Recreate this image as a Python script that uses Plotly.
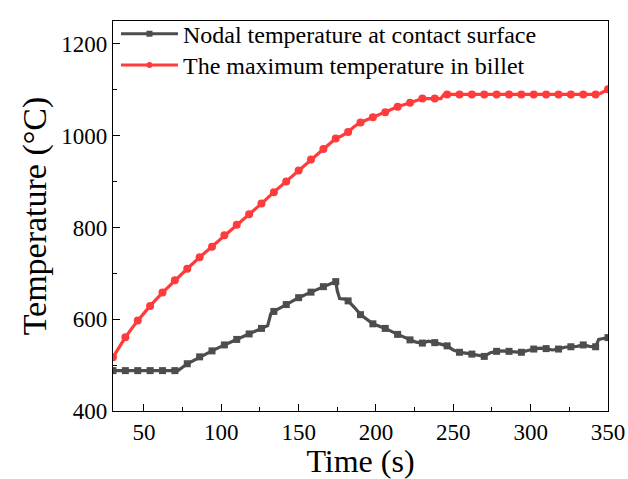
import plotly.graph_objects as go

# ---- data ----
# marker sampling times (s)
marker_time = [30, 38, 46, 54, 62, 70, 78, 86, 94, 102, 110, 118, 126, 134, 142, 150,
               158, 166, 174, 182, 190, 198, 206, 214, 222, 230, 238, 246, 254, 262,
               270, 278, 286, 294, 302, 310, 318, 326, 334, 342, 350]

# Nodal temperature at contact surface (line data, denser than markers)
nodal_time = [30, 38, 46, 54, 62, 70, 72, 78, 86, 94, 102, 110, 118, 126, 130, 132, 134,
              142, 150, 158, 166, 174, 175, 176.5, 180, 182, 186, 190, 198, 206, 214,
              218, 222, 226, 230, 234, 238, 242, 246, 250, 254, 258, 262, 266, 270, 274,
              278, 282, 286, 290, 294, 298, 302, 306, 310, 314, 318, 322, 326, 330, 334,
              338, 342, 344, 347, 350]
nodal_temp = [488, 488, 488, 488, 488, 488, 488, 503, 518, 531, 544, 556, 568, 580, 586, 612, 617,
              632, 647, 659, 671, 682, 662, 645, 644, 640, 626, 610, 590, 580, 567,
              561, 555, 550, 548, 552, 549, 546, 542, 533, 528, 526, 524, 522, 519, 527,
              530, 531, 530, 528, 528, 532, 535, 537, 536, 533, 535, 539, 540, 541, 544,
              541, 540, 556, 558, 560]

# The maximum temperature in billet
max_time = [30, 38, 46, 54, 62, 70, 78, 86, 94, 102, 110, 118, 126, 134, 142, 150,
            158, 166, 174, 178, 182, 186, 190, 198, 206, 214, 222, 230, 238, 242, 244, 246,
            254, 262, 270, 278, 286, 294, 302, 310, 318, 326, 334, 342, 345, 350]
max_temp = [517, 561, 597, 629, 658, 685, 710, 735, 758, 783, 806, 829, 852, 877, 900, 924,
            948, 971, 994, 1000, 1008, 1020, 1029, 1040, 1051, 1063, 1072, 1081, 1081, 1081, 1090, 1090,
            1090, 1090, 1090, 1090, 1090, 1090, 1090, 1090, 1090, 1090, 1090, 1090, 1092, 1101]

names = ["Nodal temperature at contact surface", "The maximum temperature in billet"]

GRAY = "#4d4d4d"
RED = "#ff3b3b"
FONT = "Liberation Serif"

def at_markers(times, values):
    lut = dict(zip(times, values))
    xs = [t for t in marker_time if t in lut]
    return xs, [lut[t] for t in xs]

fig = go.Figure()

# lines
fig.add_trace(go.Scatter(x=nodal_time, y=nodal_temp, mode="lines",
                         line=dict(color=GRAY, width=3.2), showlegend=False, hoverinfo="skip"))
fig.add_trace(go.Scatter(x=max_time, y=max_temp, mode="lines",
                         line=dict(color=RED, width=3.2), showlegend=False, hoverinfo="skip"))
# markers
gx, gy = at_markers(nodal_time, nodal_temp)
fig.add_trace(go.Scatter(x=gx, y=gy, mode="markers",
                         marker=dict(symbol="square", size=7, color=GRAY), showlegend=False))
rx, ry = at_markers(max_time, max_temp)
fig.add_trace(go.Scatter(x=rx, y=ry, mode="markers",
                         marker=dict(symbol="circle", size=8, color=RED), showlegend=False))

# legend entries (one legend box each, so the row spacing can be matched)
fig.add_trace(go.Scatter(x=[None], y=[None], mode="lines+markers", name=names[0],
                         line=dict(color=GRAY, width=3), legend="legend",
                         marker=dict(symbol="square", size=6, color=GRAY)))
fig.add_trace(go.Scatter(x=[None], y=[None], mode="lines+markers", name=names[1],
                         line=dict(color=RED, width=3), legend="legend2",
                         marker=dict(symbol="circle", size=6, color=RED)))

axis_common = dict(
    showline=True, linecolor="black", linewidth=1.3, mirror=True,
    ticks="inside", ticklen=7, tickwidth=1.3, tickcolor="black",
    showgrid=False, zeroline=False, automargin=False,
    tickfont=dict(family=FONT, size=23, color="black"),
)

fig.update_xaxes(range=[30, 350], tick0=50, dtick=50,
                 minor=dict(ticks="inside", ticklen=4, tickwidth=1.3, tickcolor="black", dtick=25, tick0=25),
                 title=dict(text="Time (s)", font=dict(family=FONT, size=32, color="black"), standoff=4),
                 **axis_common)
fig.update_yaxes(range=[400, 1250], tick0=400, dtick=200,
                 minor=dict(ticks="inside", ticklen=4, tickwidth=1.3, tickcolor="black", dtick=100, tick0=400),
                 title=dict(text="Temperature (°C)", font=dict(family=FONT, size=34, color="black"), standoff=4),
                 **axis_common)

legend_common = dict(xanchor="left", yanchor="top", bgcolor="rgba(0,0,0,0)", borderwidth=0,
                     font=dict(family=FONT, size=24, color="black"), itemwidth=57)

fig.update_layout(
    width=628, height=479,
    margin=dict(l=113, r=20, t=16, b=68),
    paper_bgcolor="white", plot_bgcolor="white",
    legend=dict(x=0.006, y=1.024, **legend_common),
    legend2=dict(x=0.006, y=0.944, **legend_common),
)

fig.write_html("out.html")
